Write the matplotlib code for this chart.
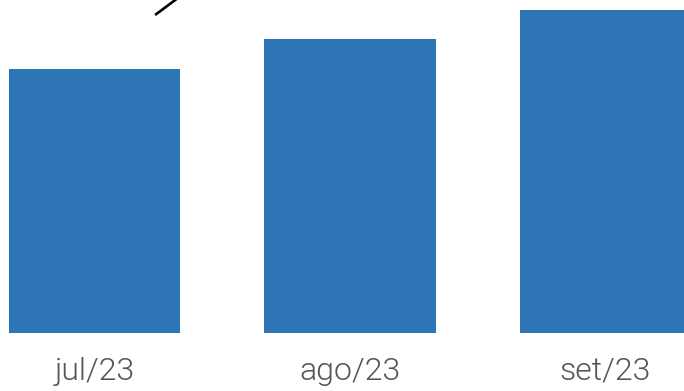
import matplotlib
matplotlib.use("Agg")
import matplotlib.pyplot as plt

categories = ["jul/23", "ago/23", "set/23"]
values = [264, 294, 323]
# partial line series visible at the top-left (clipped by the frame)
line_x = [0.237, 0.40]
line_y = [318, 349]

fig = plt.figure(figsize=(6.84, 3.91), dpi=100)
ax = fig.add_axes([0, 58/391, 1, 333/391])
x = range(len(categories))
ax.bar(x, values, width=0.67, color="#2e75b6")
ax.plot(line_x, line_y, color="black", lw=1.9, solid_capstyle="butt", clip_on=True)
ax.set_xlim(-94.5/255.5, (684-94.5)/255.5)
ax.set_ylim(0, 333)
ax.set_xticks(list(x))
ax.set_xticklabels(categories, fontsize=23, color="#555555", family="Roboto", fontweight=300)
ax.tick_params(axis="x", length=0, pad=17)
ax.set_yticks([])
for s in ax.spines.values():
    s.set_visible(False)
fig.savefig("out.png", dpi=100)
